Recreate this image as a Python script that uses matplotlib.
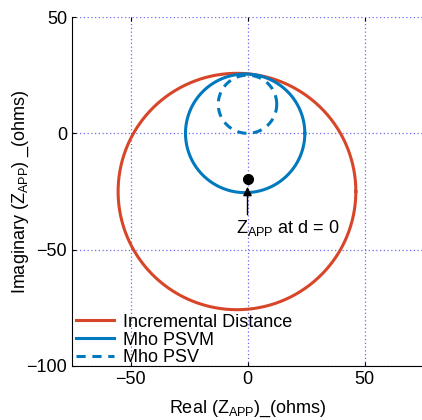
import numpy as np
import matplotlib.pyplot as plt

plt.rcParams['font.family'] = ['Liberation Sans', 'DejaVu Sans']

# circle characteristics: (centre real, centre imag, radius)
incr_dist = (-4.5, -25.0, 50.8)
mho_psvm = (-1.0, 0.0, 25.5)
mho_psv = (0.0, 12.5, 12.5)
z_app_d0 = (0.0, -19.5)

red = '#D8462A'
blue = '#0079BE'


def circle(c):
    t = np.linspace(0, 2 * np.pi, 401)
    return c[0] + c[2] * np.cos(t), c[1] + c[2] * np.sin(t)


fig = plt.figure(figsize=(4.22, 4.20), dpi=100)
ax = fig.add_axes([72 / 422, 54 / 420, 351 / 422, 349 / 420])

x, y = circle(incr_dist)
ax.plot(x, y, color=red, lw=2.2, solid_joinstyle='round', label='Incremental Distance')
x, y = circle(mho_psvm)
ax.plot(x, y, color=blue, lw=2.2, solid_joinstyle='round', label='Mho PSVM')
x, y = circle(mho_psv)
ax.plot(x, y, color=blue, lw=2.2, ls=(0, (3.0, 2.2)), label='Mho PSV')

ax.plot(z_app_d0[0], z_app_d0[1], 'o', color='black', ms=7)
ax.text(-5, -40.5, 'Z$_{\\mathregular{APP}}$ at d = 0', fontsize=13,
        ha='left', va='center')
ax.annotate('', xy=(0, -23), xytext=(0, -35),
            arrowprops=dict(arrowstyle='-|>', color='black', lw=1,
                            mutation_scale=13, shrinkA=0, shrinkB=0))

ax.set_xlim(-75, 75)
ax.set_ylim(-100, 50)
ax.set_xticks([-50, 0, 50])
ax.set_yticks([-100, -50, 0, 50])
ax.grid(True, color='#6a6aee', ls=(0, (1, 2)), lw=0.9)
ax.set_axisbelow(True)
ax.tick_params(direction='in', labelsize=13, length=3, top=True)
for s in ['top', 'right']:
    ax.spines[s].set_visible(False)

ax.set_xlabel('Real (Z$_{\\mathregular{APP}}$)_(ohms)', fontsize=13, labelpad=8)
ax.set_ylabel('Imaginary (Z$_{\\mathregular{APP}}$) _(ohms)', fontsize=13, labelpad=-3)

ax.legend(loc='lower left', bbox_to_anchor=(0.005, -0.009), frameon=False,
          fontsize=13, handlelength=2.1, handletextpad=0.5, labelspacing=0.05,
          borderaxespad=0.1, borderpad=0.05)

fig.savefig('out.png', dpi=100)
